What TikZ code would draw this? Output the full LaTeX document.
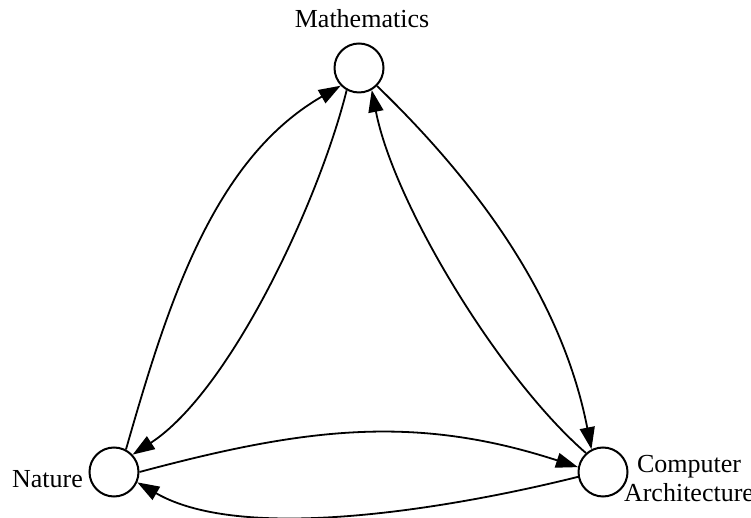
\documentclass[tikz,border=0pt]{standalone}
\usepackage{fontspec}
\setmainfont{Liberation Serif}
\usetikzlibrary{arrows.meta}

\begin{document}
\begin{tikzpicture}[x=1pt,y=1pt,
    topic/.style={draw, circle, line width=2pt, minimum size=49pt, inner sep=0pt},
    flow/.style={line width=1.8pt, -{Triangle[length=22pt,width=15pt]}},
    lbl/.style={font=\fontsize{26}{29}\selectfont, inner sep=0pt}]
    \useasboundingbox (0,0) rectangle (751,518);
    \node[topic] (M) at (359,450) {};
    \node[topic] (N) at (114,46) {};
    \node[topic] (C) at (603,46) {};
    \node[lbl, anchor=base] (Mlbl) at (362,490) {Mathematics};
    \node[lbl, anchor=base east] (Nlbl) at (83,30) {Nature};
    \node[lbl, align=center] (Clbl) at (689,39) {Computer\\Architecture};
    \draw[flow] (N.62) to[out=74,in=210,looseness=0.9] (M.224);
    \draw[flow] (M.241) to[out=256,in=33,looseness=0.7] (N.43);
    \draw[flow] (C.132) to[out=139,in=281,looseness=0.7] (M.300);
    \draw[flow] (M.315) to[out=316,in=101,looseness=0.9] (C.117);
    \draw[flow] (N.0) to[out=15,in=162] (C.169);
    \draw[flow] (C.191) to[out=194,in=330,looseness=0.72] (N.336);
\end{tikzpicture}
\end{document}
